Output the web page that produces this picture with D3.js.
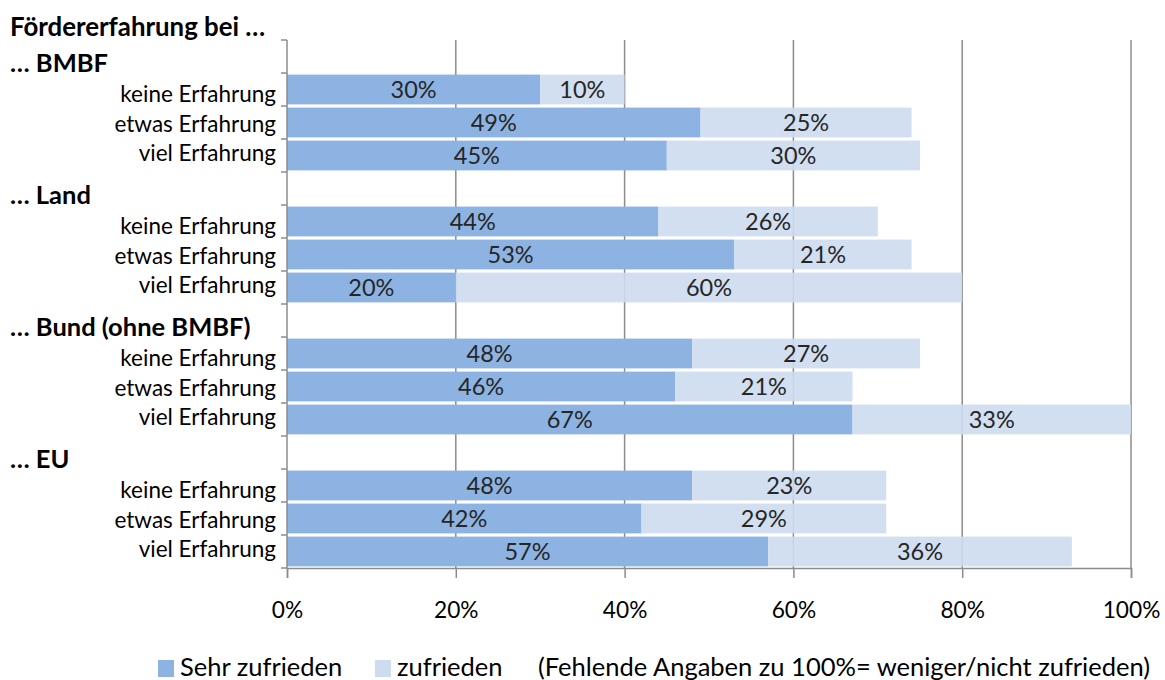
<!DOCTYPE html>
<html><head><meta charset="utf-8">
<script src="https://cdn.jsdelivr.net/npm/d3@7"></script>
<style>
html,body{margin:0;padding:0;background:#fff;}
svg{display:block;font-family:Lato, "Noto Sans", sans-serif;}
</style></head>
<body><svg id="chart" width="1165" height="680"></svg>
<script>
const groups = ["… BMBF", "… Land", "… Bund (ohne BMBF)", "… EU"];
const levels = ["keine Erfahrung", "etwas Erfahrung", "viel Erfahrung"];
const sehrZufrieden = [30, 49, 45, 44, 53, 20, 48, 46, 67, 48, 42, 57];
const zufrieden     = [10, 25, 30, 26, 21, 60, 27, 21, 33, 23, 29, 36];
const xTicks = [0, 20, 40, 60, 80, 100];
const title = "Fördererfahrung bei …";
const legendLabels = ["Sehr zufrieden", "zufrieden"];
const note = "(Fehlende Angaben zu 100%= weniger/nicht zufrieden)";

const colSehr = "#8db3e2", colZuf = "#cddcee", gridCol = "#8c8c8c";
const svg = d3.select("#chart");
const M = {left: 287, right: 1131, top: 40, bottom: 568};

const slots = [];
groups.forEach((g, gi) => {
  slots.push({key: gi + "|h", group: g, head: true});
  levels.forEach((l, li) => slots.push({key: gi + "|" + li, level: l, gi: gi, li: li}));
});
const rows = [];
groups.forEach((g, gi) => levels.forEach((l, li) => {
  const i = gi * 3 + li;
  rows.push({key: gi + "|" + li, level: l, s: sehrZufrieden[i], z: zufrieden[i]});
}));

const x = d3.scaleLinear().domain([0, 100]).range([M.left, M.right]);
const y = d3.scaleBand().domain(slots.map(d => d.key)).range([M.top, M.bottom]).padding(0);
const bw = y.bandwidth();
const inset = 1.6;

// gridlines
svg.append("g").selectAll("line").data(xTicks.filter(t => t > 0)).join("line")
  .attr("x1", d => x(d)).attr("x2", d => x(d))
  .attr("y1", M.top).attr("y2", M.bottom)
  .attr("stroke", gridCol).attr("stroke-width", 1.5);

// bars
const bars = svg.append("g");
bars.selectAll("rect.s").data(rows).join("rect").attr("class", "s")
  .attr("x", x(0)).attr("y", d => y(d.key) + inset)
  .attr("width", d => x(d.s) - x(0)).attr("height", bw - 2 * inset)
  .attr("fill", colSehr);
bars.selectAll("rect.z").data(rows).join("rect").attr("class", "z")
  .attr("x", d => x(d.s)).attr("y", d => y(d.key) + inset)
  .attr("width", d => x(d.s + d.z) - x(d.s)).attr("height", bw - 2 * inset)
  .attr("fill", colZuf).attr("fill-opacity", 0.9);

// value labels
const lab = svg.append("g").attr("font-size", 23.5).attr("fill", "#262626").attr("text-anchor", "middle");
lab.selectAll("text.s").data(rows).join("text")
  .attr("x", d => x(d.s / 2)).attr("y", d => y(d.key) + bw / 2).attr("dy", "0.36em")
  .text(d => d.s + "%");
lab.selectAll("text.z").data(rows).join("text")
  .attr("x", d => x(d.s + d.z / 2)).attr("y", d => y(d.key) + bw / 2).attr("dy", "0.36em")
  .text(d => d.z + "%");

// y axis line & ticks
const yAxisG = svg.append("g");
yAxisG.append("line").attr("x1", M.left).attr("x2", M.left).attr("y1", M.top).attr("y2", M.bottom)
  .attr("stroke", gridCol).attr("stroke-width", 1.5);
const edges = slots.map(s => y(s.key)).concat([M.bottom]);
yAxisG.selectAll("line.t").data(edges).join("line").attr("class", "t")
  .attr("x1", M.left - 6).attr("x2", M.left).attr("y1", d => d).attr("y2", d => d)
  .attr("stroke", gridCol).attr("stroke-width", 1.5);

// x axis
const xAxis = d3.axisBottom(x).tickValues(xTicks).tickFormat(d => d + "%").tickSize(10).tickPadding(24);
const xg = svg.append("g").attr("transform", `translate(0,${M.bottom})`).call(xAxis);
xg.select(".domain").attr("stroke", gridCol).attr("stroke-width", 1.5);
xg.selectAll(".tick line").attr("stroke", gridCol).attr("stroke-width", 1.5);
xg.selectAll(".tick text").attr("font-size", 22.7).attr("fill", "#000").attr("font-family", "Lato, sans-serif");

// category labels (compressed spacing around the middle row of each group)
svg.append("g").attr("font-size", 22.5).attr("text-anchor", "end").attr("fill", "#000")
  .selectAll("text").data(slots.filter(s => !s.head)).join("text")
  .attr("x", M.left - 11)
  .attr("y", d => y(d.gi + "|1") + bw / 2 + 1 + (d.li - 1) * bw * 0.89)
  .attr("dy", "0.36em")
  .text(d => d.level);
svg.append("g").attr("font-size", 25.5).attr("font-weight", "bold").attr("fill", "#000")
  .selectAll("text").data(slots.filter(s => s.head)).join("text")
  .attr("x", 10).attr("y", d => y(d.key) + bw / 2 + 6).attr("dy", "0.36em")
  .text(d => d.group);
svg.append("text").attr("x", 10).attr("y", 27).attr("dy", "0.36em")
  .attr("font-size", 25.8).attr("font-weight", "bold").text(title);

// legend
const lg = svg.append("g").attr("font-size", 25.5).attr("fill", "#000");
const legendItems = [{c: colSehr, t: legendLabels[0], x: 158}, {c: colZuf, t: legendLabels[1], x: 375}];
lg.selectAll("rect").data(legendItems).join("rect")
  .attr("x", d => d.x).attr("y", 660).attr("width", 16).attr("height", 17).attr("fill", d => d.c);
lg.selectAll("text").data(legendItems).join("text")
  .attr("x", d => d.x + 22).attr("y", 667).attr("dy", "0.36em").text(d => d.t);
lg.append("text").attr("x", 538).attr("y", 667).attr("dy", "0.36em").text(note);
</script></body></html>
